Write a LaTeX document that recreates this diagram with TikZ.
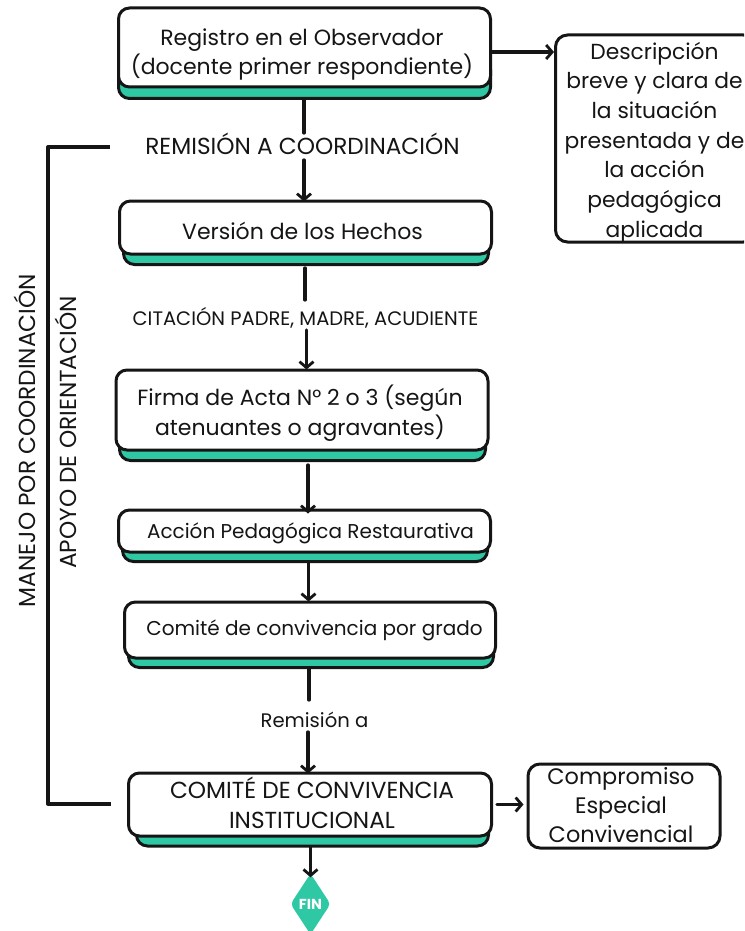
\documentclass[tikz,border=0pt]{standalone}
\usepackage{fontspec}
\setmainfont{Poppins}
\usetikzlibrary{arrows.meta,shapes.geometric}
\definecolor{verde}{HTML}{2FC8A5}
\definecolor{tinta}{HTML}{151515}
\tikzset{
caja/.style={draw=tinta,fill=white,line width=3pt,rounded corners=11pt,inner sep=0pt},
base/.style={draw=tinta,fill=verde,line width=3pt,rounded corners=11pt,inner sep=0pt},
texto/.style={align=center,text=tinta,inner sep=0pt,font=\fontsize{22}{29.4}\selectfont},
rotulo/.style={text=tinta,inner sep=0pt,font=\fontsize{23.2}{26}\selectfont},
linea/.style={draw=tinta,line width=3.3pt},
flecha/.style={linea,-{Straight Barb[length=6pt,width=14pt,line width=2.8pt]}}
}
\begin{document}
\begin{tikzpicture}[line cap=round,line join=round,x=1pt,y=-1pt]
\clip (0,0) rectangle (744,931);
\path
(304,0) coordinate (P1)
(305,268) coordinate (C1)
(305,300) coordinate (C2)
(306.5,330) coordinate (C3)
(308,465) coordinate (A1)
(308.5,0) coordinate (A2)
(309,700) coordinate (R1)
(308,732) coordinate (R2)
(304,133) coordinate (M1)
(304,160) coordinate (M2)
(110,147) coordinate (E0)
(48,147) coordinate (E1)
(48,804) coordinate (E2)
(111,804) coordinate (E3)
;
% bases verdes
\node[base,minimum width=372pt,minimum height=40pt] (baseRegistro) at (304.5,78.5) {};
\node[base,minimum width=365pt,minimum height=30pt] (baseVersion) at (306,249.5) {};
\node[base,minimum width=366pt,minimum height=30pt] (baseActa) at (302.5,445.5) {};
\node[base,minimum width=365pt,minimum height=30pt] (baseAccion) at (305,546.5) {};
\node[base,minimum width=365pt,minimum height=30pt] (baseGrado) at (311,652.5) {};
\node[base,minimum width=352pt,minimum height=30pt] (baseInstitucional) at (312.5,831) {};
% cajas
\node[caja,minimum width=372pt,minimum height=79pt] (registro) at (304.5,47.5) {};
\node[caja,minimum width=372pt,minimum height=53pt] (version) at (305.5,227.5) {};
\node[caja,minimum width=372pt,minimum height=80pt] (acta) at (302,410) {};
\node[caja,minimum width=372pt,minimum height=42pt] (accion) at (304.5,531) {};
\node[caja,minimum width=371pt,minimum height=56pt] (grado) at (310,630) {};
\node[caja,minimum width=363pt,minimum height=63pt] (institucional) at (310,804.5) {};
\node[caja,minimum width=200pt,minimum height=207pt,rounded corners=12pt] (descripcion) at (655.5,138.5) {};
\node[caja,minimum width=192pt,minimum height=84pt,rounded corners=12pt] (compromiso) at (624,806) {};
% textos de las cajas
\node[texto] (tRegistro) at (302,54.5) {Registro en el Observador\\(docente primer respondiente)};
\node[texto] (tVersion) at (302.5,231) {Versión de los Hechos};
\node[texto,font=\fontsize{22}{30.5}\selectfont] (tActa) at (300,413) {Firma de Acta N° 2 o 3 (según\\atenuantes o agravantes)};
\node[texto,font=\fontsize{20}{26}\selectfont] (tAccion) at (310.5,533) {Acción Pedagógica Restaurativa};
\node[texto,font=\fontsize{20}{26}\selectfont] (tGrado) at (314.5,630) {Comité de convivencia por grado};
\node[texto,font=\fontsize{23.2}{29.4}\selectfont] (tInstitucional) at (312,803) {COMITÉ DE CONVIVENCIA\\INSTITUCIONAL};
\node[texto,font=\fontsize{21.8}{29.7}\selectfont] (tDescripcion) at (654.5,142.5) {Descripción\\breve y clara de\\la situación\\presentada y de\\la acción\\pedagógica\\aplicada};
\node[texto,font=\fontsize{22.4}{29.4}\selectfont] (tCompromiso) at (621,805) {Compromiso\\Especial\\Convivencial};
% rotulos
\node[rotulo] (remision) at (302.5,144) {REMISIÓN A COORDINACIÓN};
\node[rotulo,font=\fontsize{19.5}{22}\selectfont] (citacion) at (305.5,317.5) {CITACIÓN PADRE, MADRE, ACUDIENTE};
\node[rotulo,font=\fontsize{19.6}{22}\selectfont] (remisiona) at (314.5,719.5) {Remisión a};
\node[rotulo,rotate=90] (manejo) at (25,440.5) {MANEJO POR COORDINACIÓN};
\node[rotulo,rotate=90] (apoyo) at (66,432.5) {APOYO DE ORIENTACIÓN};
\node[diamond,fill=verde,aspect=0.66,rounded corners=4pt,inner sep=1pt,minimum width=40pt,minimum height=61pt,text=white,font=\fontsize{14.5}{16}\bfseries\selectfont] (fin) at (310.5,904) {FIN};
% conectores
\draw[linea] (M1 |- baseRegistro.south) -- (M1);
\draw[flecha] (M2) -- ([yshift=-2pt]M2 |- version.north);
\draw[flecha] (registro.east |- 0,52) -- (descripcion.west |- 0,52);
\draw[linea] (C1) -- (C2);
\draw[flecha] (C3) -- ([yshift=-1pt]C3 |- acta.north);
\draw[flecha] (A1) -- ([yshift=-5pt]A1 |- accion.north);
\draw[flecha] (A2 |- baseAccion.south) -- ([yshift=-1pt]A2 |- grado.north);
\draw[linea] (R1 |- baseGrado.south) -- (R1);
\draw[flecha] (R2) -- ([yshift=-2pt]R2 |- institucional.north);
\draw[flecha] ([xshift=4pt]institucional.east) -- ([xshift=-3pt]compromiso.west |- institucional.east);
\draw[flecha] (fin.north |- baseInstitucional.south) -- ([yshift=-4pt]fin.north);
\draw[linea,line cap=butt] (E0) -- (E1) -- (E2) -- (E3);
\end{tikzpicture}
\end{document}
